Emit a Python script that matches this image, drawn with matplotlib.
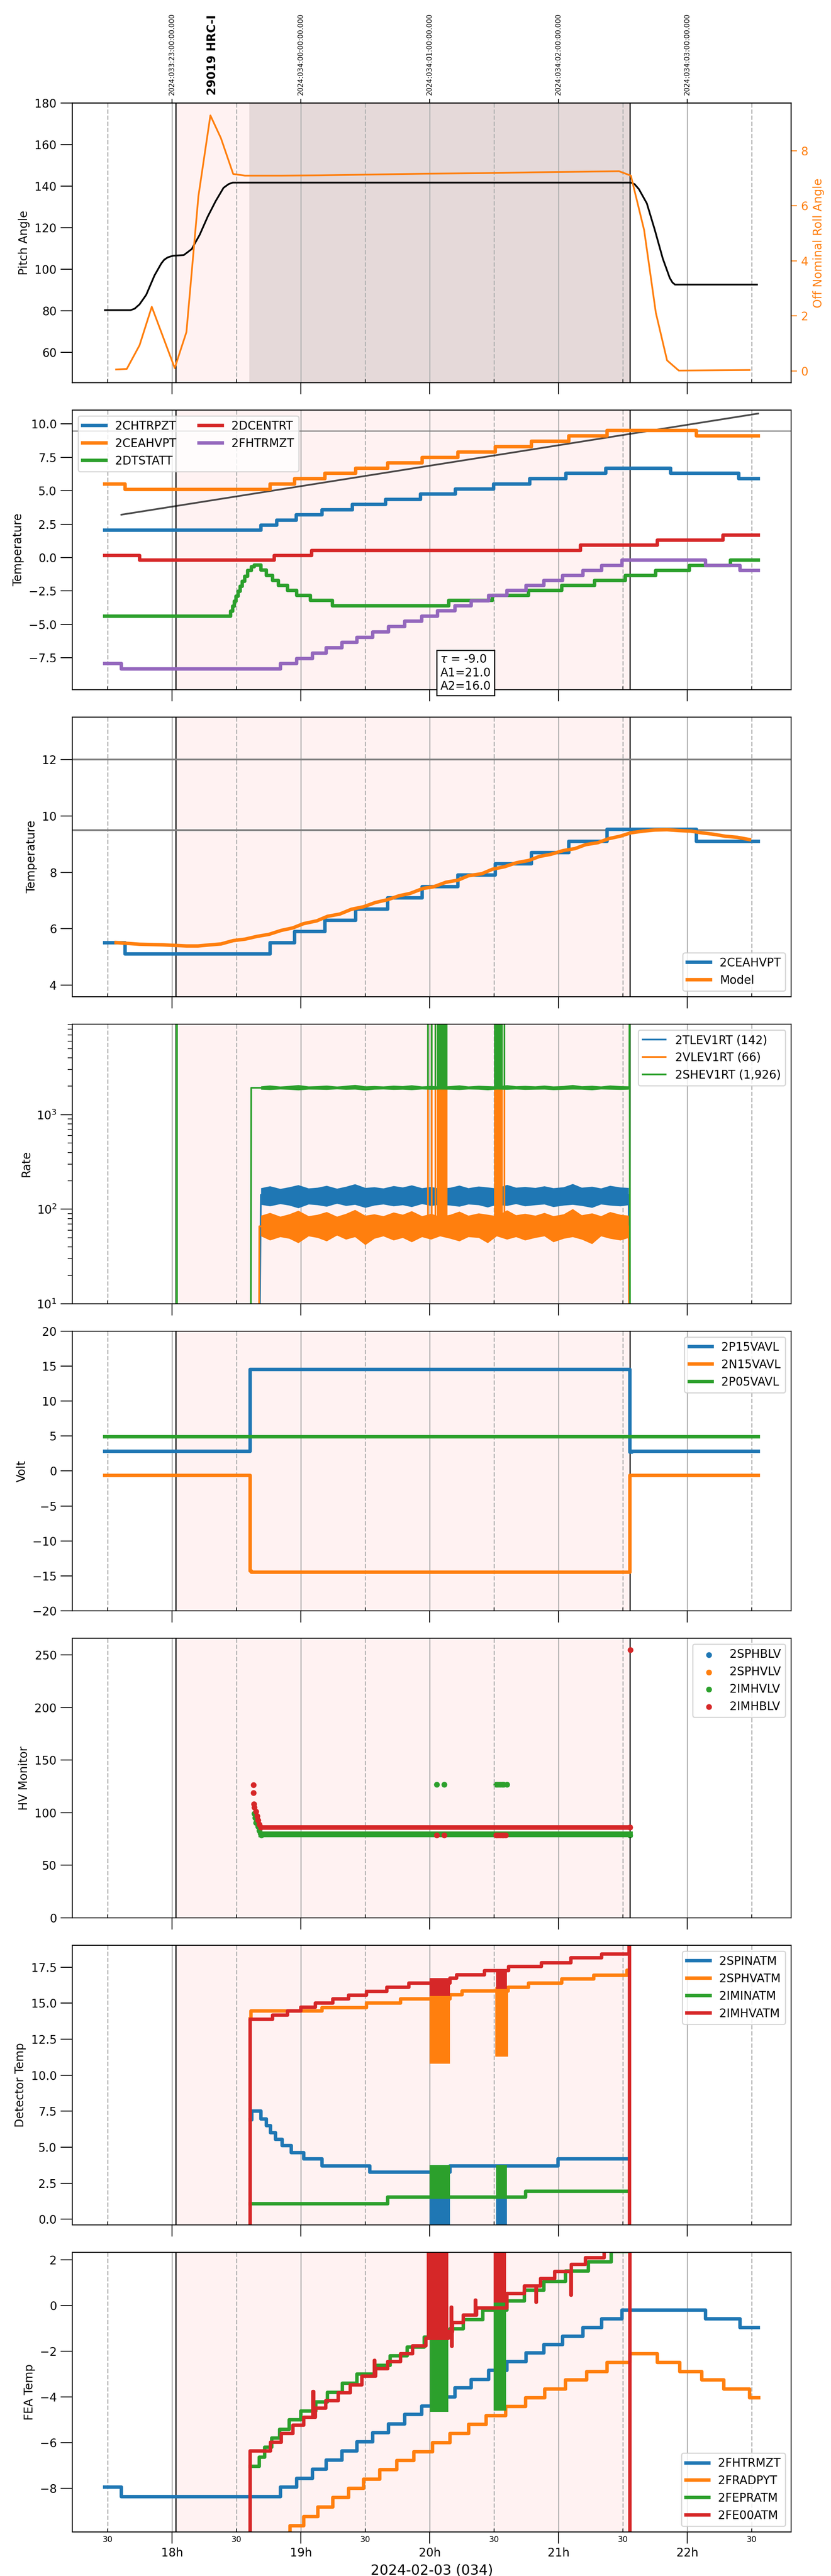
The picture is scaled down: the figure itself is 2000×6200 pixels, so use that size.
import numpy as np
import matplotlib
matplotlib.use('Agg')
from matplotlib import pyplot as plt

# ---- time axis (hours, 2024-02-03 local) ----
t_min, t_max = 17.226, 22.806
hour_ticks = [18, 19, 20, 21, 22]
hour_labels = ['18h', '19h', '20h', '21h', '22h']
half_ticks = [17.5, 18.5, 19.5, 20.5, 21.5, 22.5]
top_labels = ['2024:033:23:00:00.000', '2024:034:00:00:00.000', '2024:034:01:00:00.000',
              '2024:034:02:00:00.000', '2024:034:03:00:00.000']
obs_label = '29019 HRC-I'
obs_label_t = 18.313
obs_start, obs_stop = 18.03, 21.554
hv_on = 18.60

# ---- panel 1: pitch / roll ----
pitch_t = [17.479, 17.678, 17.71, 17.748, 17.80, 17.864, 17.917, 17.94, 17.967, 18.008, 18.091,
           18.153, 18.215, 18.277, 18.339, 18.40, 18.44, 18.471, 21.562, 21.59, 21.624, 21.686,
           21.748, 21.81, 21.864, 21.885, 21.905, 22.541]
pitch_v = [80.3, 80.3, 81.0, 83.1, 87.7, 97.0, 102.8, 104.6, 105.7, 106.5, 106.8,
           109.7, 116.6, 125.3, 132.8, 139.2, 141.0, 141.7, 141.7, 141.0, 138.6, 131.7,
           118.9, 105.1, 95.8, 93.6, 92.6, 92.6]
roll_t = [17.566, 17.649, 17.748, 17.843, 18.021, 18.112, 18.205, 18.298, 18.38, 18.475, 18.566,
          18.85, 19.145, 19.55, 19.97, 20.4, 20.8, 21.15, 21.47, 21.562, 21.665, 21.756, 21.843,
          21.934, 22.484]
roll_v = [0.05, 0.07, 0.93, 2.33, 0.10, 1.41, 6.35, 9.29, 8.46, 7.16, 7.10,
          7.10, 7.11, 7.14, 7.17, 7.19, 7.22, 7.24, 7.26, 7.10, 5.12, 2.11, 0.38,
          0.01, 0.03]

# ---- panel 2: temperatures (step edges, one more edge than values) ----
chtrpzt_t = [17.479, 18.69, 18.814, 18.963, 19.165, 19.40, 19.657, 19.93, 20.20, 20.496, 20.777,
             21.058, 21.368, 21.872, 22.40, 22.55]
chtrpzt_v = [2.05, 2.44, 2.81, 3.21, 3.59, 3.97, 4.36, 4.75, 5.12, 5.51, 5.90, 6.30, 6.69, 6.30, 5.90]
ceahvpt_t = [17.479, 17.636, 18.76, 18.95, 19.186, 19.426, 19.674, 19.942, 20.219, 20.508, 20.789,
             21.079, 21.376, 22.07, 22.55]
ceahvpt_v = [5.51, 5.11, 5.51, 5.90, 6.30, 6.69, 7.09, 7.49, 7.90, 8.30, 8.70, 9.10, 9.52, 9.10]
dtstatt_t = [17.479, 18.455, 18.47, 18.483, 18.496, 18.512, 18.529, 18.545, 18.566, 18.587, 18.616,
             18.64, 18.69, 18.731, 18.781, 18.826, 18.897, 18.967, 19.074, 19.244, 20.149, 20.488,
             20.769, 21.025, 21.28, 21.52, 21.756, 22.017, 22.335, 22.55]
dtstatt_v = [-4.39, -4.02, -3.65, -3.28, -2.90, -2.53, -2.16, -1.78, -1.41, -0.96, -0.67, -0.56,
             -0.93, -1.34, -1.71, -2.08, -2.46, -2.83, -3.20, -3.60, -3.20, -2.83, -2.46, -2.08,
             -1.71, -1.34, -0.96, -0.59, -0.20]
dcentrt_t = [17.479, 17.748, 18.793, 19.083, 21.17, 21.769, 22.277, 22.55]
dcentrt_v = [0.17, -0.20, 0.17, 0.54, 0.93, 1.30, 1.68]
fhtrmzt_t = [17.479, 17.607, 18.843, 18.967, 19.091, 19.198, 19.318, 19.434, 19.558, 19.68, 19.806,
             19.938, 20.062, 20.198, 20.322, 20.459, 20.60, 20.748, 20.888, 21.033, 21.19, 21.335,
             21.492, 22.14, 22.409, 22.55]
fhtrmzt_v = [-7.94, -8.35, -7.94, -7.56, -7.15, -6.75, -6.36, -5.96, -5.56, -5.17, -4.77, -4.39,
             -3.99, -3.60, -3.23, -2.83, -2.46, -2.08, -1.71, -1.34, -0.96, -0.59, -0.20, -0.59, -0.96]
trend_t = [17.607, 22.55]
trend_v = [3.21, 10.78]
limit_warm = 9.5
limit_hot = 12.0
fit_text = '$\\tau$ = -9.0\nA1=21.0\nA2=16.0'

# ---- panel 3: model ----
model_t = [17.566, 17.657, 17.748, 17.843, 17.926, 18.021, 18.112, 18.202, 18.298, 18.38,
           18.475, 18.566, 18.661, 18.752, 18.847, 18.938, 19.021, 19.124, 19.207, 19.302,
           19.393, 19.488, 19.579, 19.674, 19.764, 19.847, 19.95, 20.033, 20.128, 20.219,
           20.302, 20.405, 20.488, 20.583, 20.674, 20.769, 20.851, 20.942, 21.037, 21.128,
           21.211, 21.306, 21.388, 21.479, 21.562, 21.657, 21.748, 21.843, 21.934, 22.029,
           22.112, 22.202, 22.293, 22.388, 22.483]
model_v = [5.51, 5.48, 5.45, 5.44, 5.43, 5.41, 5.39, 5.39, 5.43, 5.46,
           5.58, 5.63, 5.73, 5.80, 5.94, 6.03, 6.18, 6.28, 6.44, 6.52,
           6.69, 6.78, 6.93, 7.03, 7.17, 7.25, 7.43, 7.49, 7.65, 7.72,
           7.88, 7.95, 8.11, 8.20, 8.34, 8.42, 8.56, 8.64, 8.77, 8.84,
           8.98, 9.05, 9.19, 9.28, 9.40, 9.46, 9.50, 9.51, 9.48, 9.46,
           9.40, 9.35, 9.28, 9.24, 9.16]

# ---- panel 4: rates (mean level plus read-off noise envelope) ----
tlev_t = [18.676, 18.69, 21.545, 21.55]
tlev_v = [1, 142, 142, 1]
vlev_t = [18.674, 18.678, 21.545, 21.55]
vlev_v = [1, 66, 66, 1]
shev_t = [18.030, 18.035, 18.037, 18.039, 18.611, 18.615, 21.550, 21.552, 21.556]
shev_v = [1, 1, 3e4, 1, 1, 1926, 1926, 3e4, 1]
env_t = [18.69, 18.76, 18.84, 18.91, 18.98, 19.06, 19.13, 19.20, 19.28, 19.35,
         19.42, 19.50, 19.57, 19.64, 19.72, 19.79, 19.86, 19.94, 20.01, 20.08,
         20.16, 20.23, 20.30, 20.38, 20.45, 20.52, 20.60, 20.67, 20.74, 20.82,
         20.89, 20.96, 21.04, 21.11, 21.18, 21.26, 21.33, 21.40, 21.48, 21.545]
tlev_lo = [112, 108, 114, 110, 103, 113, 111, 107, 115, 109, 112, 104, 110, 113, 108, 111, 106, 114,
           109, 112, 110, 107, 113, 111, 105, 112, 109, 114, 108, 111, 113, 106, 110, 112, 109, 104,
           113, 110, 108, 111]
tlev_hi = [168, 176, 165, 172, 181, 167, 170, 178, 166, 174, 185, 169, 172, 167, 177, 171, 180, 168,
           173, 166, 170, 179, 168, 175, 171, 167, 182, 170, 173, 169, 176, 168, 172, 186, 170, 174,
           167, 178, 171, 169]
vlev_lo = [52, 47, 51, 49, 44, 52, 50, 46, 53, 48, 51, 42, 49, 52, 47, 50, 45, 51, 48, 52, 49, 46,
           51, 50, 44, 52, 48, 51, 47, 50, 52, 45, 49, 51, 48, 43, 52, 49, 47, 50]
vlev_hi = [86, 92, 84, 89, 97, 85, 88, 94, 84, 90, 99, 86, 89, 85, 93, 88, 96, 85, 90, 84, 88, 95,
           86, 91, 88, 85, 98, 87, 90, 86, 92, 85, 89, 101, 87, 91, 85, 94, 88, 86]
shev_lo = [1850, 1835, 1860, 1845, 1820, 1855, 1850, 1840, 1865, 1845, 1855, 1815, 1850, 1860,
           1840, 1850, 1830, 1860, 1845, 1855, 1850, 1835, 1860, 1850, 1825, 1855, 1845, 1860,
           1840, 1850, 1855, 1830, 1845, 1855, 1850, 1825, 1860, 1850, 1840, 1850]
shev_hi = [2010, 2050, 2000, 2030, 2070, 2005, 2020, 2045, 2000, 2035, 2080, 2010, 2025, 2005,
           2040, 2020, 2060, 2005, 2030, 2000, 2020, 2055, 2005, 2035, 2020, 2005, 2065, 2015,
           2030, 2010, 2045, 2005, 2025, 2075, 2015, 2035, 2005, 2050, 2020, 2010]
rate_spike_lines = [19.987, 20.016, 20.045]
rate_spike_blocks = [(20.058, 20.139), (20.50, 20.568), (20.575, 20.587)]

# ---- panel 5: voltages ----
p15_t = [17.479, 18.607, 21.554, 21.57, 22.55]
p15_v = [2.85, 14.55, 2.7, 2.85]
n15_t = [17.479, 18.607, 18.615, 21.554, 22.55]
n15_v = [-0.6, -14.3, -14.45, -0.6]
p05_t = [17.479, 22.55]
p05_v = [4.88]

# ---- panel 6: HV monitors ----
sphblv_t, sphblv_v = [], []
sphvlv_t, sphvlv_v = [], []
imhvlv_t = [18.640, 18.645, 18.653, 18.669, 18.678, 18.686, 18.694, 20.054, 20.112,
            20.517, 20.530, 20.545, 20.560, 20.575, 20.600, 21.554]
imhvlv_v = [99.1, 95.3, 90.5, 86.8, 83.0, 80.1, 78.8, 127.0, 127.0,
            127.0, 127.0, 127.0, 127.0, 127.0, 127.0, 78.8]
imhvlv_band = ([18.694, 21.554], [79.3, 79.3])
imhblv_t = [18.632, 18.632, 18.636, 18.640, 18.653, 18.661, 18.669, 18.678, 18.690, 20.054, 20.112,
            20.517, 20.530, 20.545, 20.560, 20.575, 20.590, 21.554, 21.558]
imhblv_v = [126.6, 119.0, 108.2, 105.2, 101.0, 96.8, 92.8, 89.0, 86.0, 78.8, 78.8,
            78.8, 78.8, 78.8, 78.8, 78.8, 78.8, 86.0, 255.1]
imhblv_band = ([18.690, 21.554], [86.0, 86.0])

# ---- panel 7: detector temps ----
spinatm_t = [18.607, 18.62, 18.69, 18.731, 18.764, 18.802, 18.855, 18.926, 19.021, 19.165, 19.537,
             20.004, 20.157, 20.996, 21.541]
spinatm_v = [6.9, 7.52, 6.96, 6.51, 6.00, 5.55, 5.11, 4.62, 4.18, 3.70, 3.26, 3.26, 3.70, 4.18]
spinatm_blk = [(20.0, 20.157, -1.0, 3.3), (20.517, 20.60, -1.0, 3.7)]
sphvatm_t = [18.607, 18.612, 19.165, 19.508, 19.773, 20.004, 20.157, 20.252, 20.517, 20.61, 20.769,
             21.025, 21.273, 21.533, 21.541]
sphvatm_v = [13.9, 14.47, 14.70, 15.00, 15.29, 15.29, 15.58, 15.84, 15.84, 16.11, 16.39, 16.69,
             16.95, 17.3]
sphvatm_blk = [(20.0, 20.157, 10.8, 15.6), (20.508, 20.61, 11.3, 16.1)]
iminatm_t = [18.607, 19.674, 20.744, 21.541]
iminatm_v = [1.08, 1.53, 1.95]
iminatm_blk = [(20.0, 20.157, 1.45, 3.75), (20.517, 20.60, 1.5, 3.75)]
imhvatm_t = [18.600, 18.607, 18.781, 18.897, 18.999, 19.112, 19.248, 19.372, 19.508, 19.669,
             19.839, 20.004, 20.157, 20.211, 20.426, 20.517, 20.612, 20.868, 21.095, 21.335,
             21.548, 21.552, 21.556]
imhvatm_v = [-50, 13.89, 14.18, 14.47, 14.72, 15.00, 15.29, 15.55, 15.83, 16.11,
             16.39, 16.39, 16.73, 16.98, 17.25, 17.25, 17.54, 17.81, 18.14, 18.40, 100, -50]
imhvatm_blk = [(20.0, 20.157, 15.5, 16.75), (20.517, 20.60, 16.0, 17.3)]

# ---- panel 8: FEA temps ----
fradpyt_t = [18.607, 18.917, 19.021, 19.132, 19.248, 19.372, 19.488, 19.612, 19.744, 19.876,
             20.021, 20.157, 20.302, 20.438, 20.591, 20.744, 20.893, 21.054, 21.219, 21.376,
             21.554, 21.769, 21.942, 22.112, 22.285, 22.483, 22.554]
fradpyt_v = [-10.05, -9.62, -9.23, -8.81, -8.40, -7.99, -7.59, -7.18, -6.78, -6.39,
             -5.99, -5.60, -5.20, -4.81, -4.41, -4.03, -3.65, -3.25, -2.89, -2.50,
             -2.11, -2.50, -2.89, -3.25, -3.65, -4.03]
fepratm_t = [18.607, 18.678, 18.719, 18.773, 18.835, 18.909, 19.0, 19.116, 19.207, 19.322, 19.434,
             19.579, 19.694, 19.826, 19.959, 20.157, 20.26, 20.413, 20.599, 20.736, 20.888, 21.054,
             21.231, 21.409, 21.541]
fepratm_v = [-7.03, -6.63, -6.19, -5.79, -5.42, -5.00, -4.61, -4.21, -3.80, -3.40, -3.00, -2.61,
             -2.21, -1.82, -1.39, -1.03, -0.63, -0.21, 0.19, 0.66, 1.05, 1.51, 1.90, 2.35]
fepratm_blk = [(20.003, 20.145, -4.66, -1.17), (20.497, 20.594, -4.6, 0.12)]
fe00atm_t = [18.600, 18.607, 18.764, 18.847, 18.938, 19.021, 19.095, 19.099, 19.112, 19.194, 19.289,
             19.384, 19.475, 19.570, 19.574, 19.579, 19.674, 19.773, 19.868, 19.971, 20.145, 20.166,
             20.170, 20.174, 20.178, 20.26, 20.355, 20.359, 20.364, 20.599, 20.736, 20.826, 20.830,
             20.86, 20.971, 21.095, 21.099, 21.211, 21.355, 21.552, 21.556, 21.56]
fe00atm_v = [-50, -6.36, -5.97, -5.60, -5.23, -4.88, -3.77, -4.88, -4.49, -4.16, -3.82,
             -3.47, -3.10, -2.40, -3.10, -2.76, -2.45, -2.11, -1.77, -1.44, -1.15, -0.08,
             -1.78, -1.15, -0.75, -0.42, 0.24, -0.42, -0.11, 0.52, 0.85, 0.15, 0.85,
             1.18, 1.48, 0.45, 1.79, 2.09, 2.40, 100, -50]
fe00atm_blk = [(19.977, 20.145, -1.48, 3.0), (20.497, 20.594, 0.12, 3.0)]


def steps(ax, t, v, **kw):
    return ax.step(t, list(v) + [v[-1]], where='post', **kw)


def blocks(ax, spans, color):
    for t0, t1, lo, hi in spans:
        ax.fill_between([t0, t1], [lo, lo], [hi, hi], color=color, lw=0, zorder=2)


fig, axes = plt.subplots(8, 1, figsize=(10, 31), dpi=200, sharex=True)
fig.subplots_adjust(left=0.087, right=0.952, top=1 - 248 / 6200, bottom=1 - 6094 / 6200,
                    hspace=66 / 673)

for ax in axes:
    ax.axvspan(obs_start, obs_stop, color='red', alpha=0.05, lw=0)
    ax.axvline(obs_start, color='k', lw=1)
    ax.axvline(obs_stop, color='k', lw=1)
    ax.grid(True, which='major', axis='x', color='0.7', lw=1)
    ax.grid(True, which='minor', axis='x', color='0.7', lw=1, ls='--')
    ax.tick_params(axis='x', which='major', direction='out', length=10, labelsize=10)
    ax.tick_params(axis='x', which='minor', direction='in', length=3, labelsize=7)
    ax.tick_params(axis='y', which='major', direction='out', length=10, labelsize=10)
    ax.tick_params(axis='y', which='minor', direction='out', length=4)

ax = axes[-1]
ax.set_xlim(t_min, t_max)
ax.set_xticks(hour_ticks, hour_labels)
ax.set_xticks(half_ticks, ['30'] * len(half_ticks), minor=True)
ax.set_xlabel('2024-02-03 (034)', fontsize=12)

# panel 1
ax = axes[0]
ax.axvspan(hv_on, obs_stop, color='k', alpha=0.1, lw=0)
ax.plot(pitch_t, pitch_v, color='k', lw=1.5)
ax.set_ylim(45.4, 180)
ax.set_yticks([60, 80, 100, 120, 140, 160, 180])
ax.set_ylabel('Pitch Angle', fontsize=10)
axr = ax.twinx()
axr.plot(roll_t, roll_v, color='tab:orange', lw=1.5)
axr.set_ylim(-0.43, 9.74)
axr.set_yticks([0, 2, 4, 6, 8])
axr.tick_params(axis='y', colors='tab:orange', labelsize=10, length=5)
axr.set_ylabel('Off Nominal Roll Angle', color='tab:orange', fontsize=10)
axt = ax.twiny()
axt.set_xlim(t_min, t_max)
axt.set_xticks(hour_ticks, top_labels, rotation=90, fontsize=6)
ax.annotate(obs_label, xy=(obs_label_t, 1.0), xycoords=('data', 'axes fraction'),
            xytext=(0, 7), textcoords='offset points', rotation=90, ha='center', va='bottom',
            fontsize=10, fontweight='bold')

# panel 2
ax = axes[1]
ax.axhline(limit_warm, color='gray', lw=1)
ax.plot(trend_t, trend_v, color='k', alpha=0.7, lw=1.5)
steps(ax, chtrpzt_t, chtrpzt_v, color='tab:blue', lw=3, label='2CHTRPZT')
steps(ax, ceahvpt_t, ceahvpt_v, color='tab:orange', lw=3, label='2CEAHVPT')
steps(ax, dtstatt_t, dtstatt_v, color='tab:green', lw=3, label='2DTSTATT')
steps(ax, dcentrt_t, dcentrt_v, color='tab:red', lw=3, label='2DCENTRT')
steps(ax, fhtrmzt_t, fhtrmzt_v, color='tab:purple', lw=3, label='2FHTRMZT')
ax.set_ylim(-9.89, 11.04)
ax.set_yticks([-7.5, -5.0, -2.5, 0.0, 2.5, 5.0, 7.5, 10.0])
ax.set_ylabel('Temperature', fontsize=10)
ax.legend(loc='upper left', ncol=2, fontsize=10)
ax.text(0.547, 0.06, fit_text, transform=ax.transAxes, ha='center', va='center', fontsize=10,
        multialignment='left', bbox=dict(boxstyle='square', fc='white', ec='black'), zorder=5)

# panel 3
ax = axes[2]
ax.axhline(limit_hot, color='gray', lw=1.5)
ax.axhline(limit_warm, color='gray', lw=1.5)
steps(ax, ceahvpt_t, ceahvpt_v, color='tab:blue', lw=3, label='2CEAHVPT')
ax.plot(model_t, model_v, color='tab:orange', lw=3, label='Model')
ax.set_ylim(3.59, 13.5)
ax.set_yticks([4, 6, 8, 10, 12])
ax.set_ylabel('Temperature', fontsize=10)
ax.legend(loc='lower right', fontsize=10)

# panel 4
ax = axes[3]
ax.set_yscale('log')
ax.plot(tlev_t, tlev_v, color='tab:blue', lw=1.5, label='2TLEV1RT (142)')
ax.fill_between(env_t, tlev_lo, tlev_hi, color='tab:blue', lw=0, zorder=2)
ax.plot(vlev_t, vlev_v, color='tab:orange', lw=1.5, label='2VLEV1RT (66)')
ax.fill_between(env_t, vlev_lo, vlev_hi, color='tab:orange', lw=0, zorder=2)
ax.vlines(rate_spike_lines, 60, 3e4, color='tab:orange', lw=1.5)
for t0, t1 in rate_spike_blocks:
    ax.fill_between([t0, t1], [60, 60], [3e4, 3e4], color='tab:orange', lw=0, zorder=2)
ax.plot(shev_t, shev_v, color='tab:green', lw=1.5, label='2SHEV1RT (1,926)')
ax.fill_between(env_t, shev_lo, shev_hi, color='tab:green', lw=0, zorder=2)
ax.vlines(rate_spike_lines, 1900, 3e4, color='tab:green', lw=1.5)
for t0, t1 in rate_spike_blocks:
    ax.fill_between([t0, t1], [1900, 1900], [3e4, 3e4], color='tab:green', lw=0, zorder=2)
ax.set_ylim(10, 9078)
ax.set_ylabel('Rate', fontsize=10)
ax.legend(loc='upper right', fontsize=10)

# panel 5
ax = axes[4]
steps(ax, p15_t, p15_v, color='tab:blue', lw=3, label='2P15VAVL')
steps(ax, n15_t, n15_v, color='tab:orange', lw=3, label='2N15VAVL')
steps(ax, p05_t, p05_v, color='tab:green', lw=3, label='2P05VAVL')
ax.set_ylim(-20, 20)
ax.set_yticks(range(-20, 21, 5))
ax.set_ylabel('Volt', fontsize=10)
ax.legend(loc='upper right', fontsize=10)

# panel 6
ax = axes[5]
ax.scatter(sphblv_t, sphblv_v, s=16, color='tab:blue', label='2SPHBLV')
ax.scatter(sphvlv_t, sphvlv_v, s=16, color='tab:orange', label='2SPHVLV')
ax.plot(*imhvlv_band, color='tab:green', lw=5)
ax.scatter(imhvlv_t, imhvlv_v, s=16, color='tab:green', label='2IMHVLV')
ax.plot(*imhblv_band, color='tab:red', lw=4)
ax.scatter(imhblv_t, imhblv_v, s=16, color='tab:red', label='2IMHBLV', zorder=3)
ax.set_ylim(0, 266)
ax.set_yticks(range(0, 251, 50))
ax.set_ylabel('HV Monitor', fontsize=10)
ax.legend(loc='upper right', fontsize=10)

# panel 7
ax = axes[6]
steps(ax, spinatm_t, spinatm_v, color='tab:blue', lw=3, label='2SPINATM')
blocks(ax, spinatm_blk, 'tab:blue')
steps(ax, sphvatm_t, sphvatm_v, color='tab:orange', lw=3, label='2SPHVATM')
blocks(ax, sphvatm_blk, 'tab:orange')
steps(ax, iminatm_t, iminatm_v, color='tab:green', lw=3, label='2IMINATM')
blocks(ax, iminatm_blk, 'tab:green')
steps(ax, imhvatm_t, imhvatm_v, color='tab:red', lw=3, label='2IMHVATM')
blocks(ax, imhvatm_blk, 'tab:red')
ax.set_ylim(-0.4, 19.02)
ax.set_yticks([0.0, 2.5, 5.0, 7.5, 10.0, 12.5, 15.0, 17.5])
ax.set_ylabel('Detector Temp', fontsize=10)
ax.legend(loc='upper right', fontsize=10)

# panel 8
ax = axes[7]
steps(ax, fhtrmzt_t, fhtrmzt_v, color='tab:blue', lw=3, label='2FHTRMZT')
steps(ax, fradpyt_t, fradpyt_v, color='tab:orange', lw=3, label='2FRADPYT')
steps(ax, fepratm_t, fepratm_v, color='tab:green', lw=3, label='2FEPRATM')
blocks(ax, fepratm_blk, 'tab:green')
steps(ax, fe00atm_t, fe00atm_v, color='tab:red', lw=3, label='2FE00ATM')
blocks(ax, fe00atm_blk, 'tab:red')
ax.set_ylim(-9.9, 2.32)
ax.set_yticks([-8, -6, -4, -2, 0, 2])
ax.set_ylabel('FEA Temp', fontsize=10)
ax.legend(loc='lower right', fontsize=10)

fig.savefig('out.png', dpi=200)
